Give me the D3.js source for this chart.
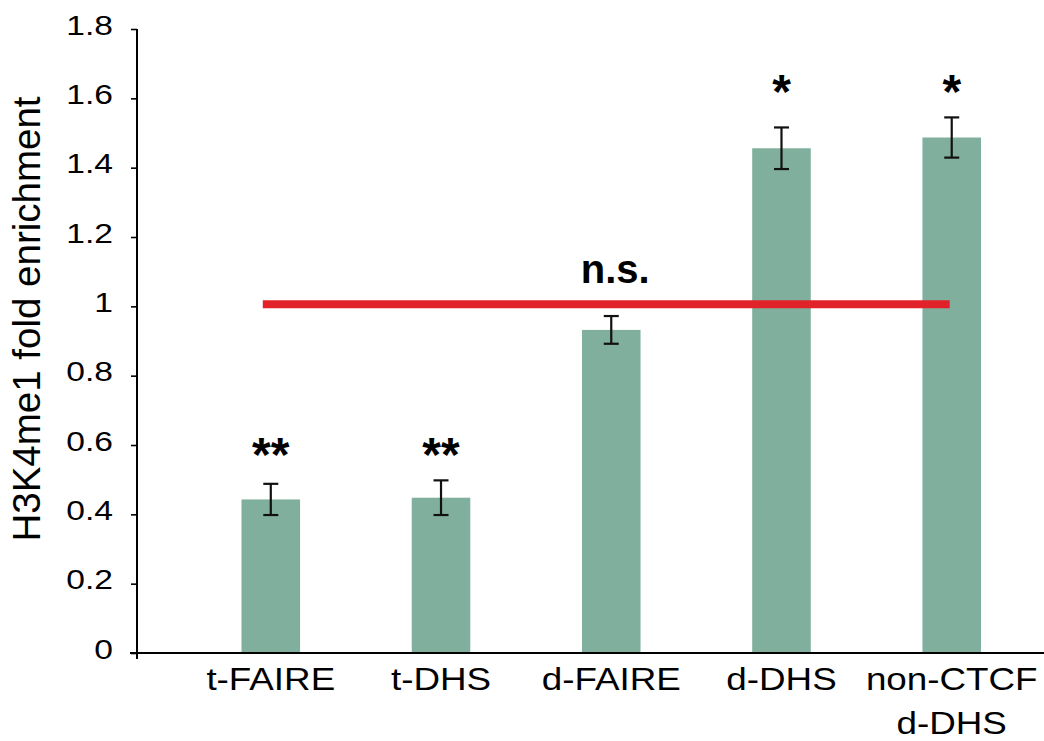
<!DOCTYPE html>
<html>
<head>
<meta charset="utf-8">
<script src="https://cdn.jsdelivr.net/npm/d3@7"></script>
<style>
  body { margin: 0; background: #fff; }
  text { font-family: "Liberation Sans", Arial, sans-serif; fill: #000; }
</style>
</head>
<body>
<script>
/* Data */
var categories = ["t-FAIRE", "t-DHS", "d-FAIRE", "d-DHS", "non-CTCF d-DHS"],
	values = [0.443, 0.448, 0.932, 1.456, 1.487],
	errors = [0.045, 0.05, 0.04, 0.06, 0.058],
	marks = ["**", "**", "", "*", "*"],
	yTicks = [0, 0.2, 0.4, 0.6, 0.8, 1, 1.2, 1.4, 1.6, 1.8],
	refValue = 1,
	refLabel = "n.s.",
	yTitle = "H3K4me1 fold enrichment";

/* Display setup */
var W = 1044, H = 741,
	plot = {left: 137, right: 1044, top: 29, bottom: 653},
	stretch = 1.2, // figure tick text is a bit wider than plain Arial
	svg = d3.select("body").append("svg")
		.attr("width", W)
		.attr("height", H);

svg.append("rect").attr("width", W).attr("height", H).style("fill", "white");

var x = d3.scaleBand()
		.domain(categories)
		.range([241.5, 981])
		.paddingInner(0.656)
		.paddingOuter(0),
	y = d3.scaleLinear()
		.domain([0, 1.8])
		.range([plot.bottom, plot.top]);

function cx(d) { return x(d) + x.bandwidth() / 2; }
function barTop(i) { return values[i] + errors[i]; }

/* Bars */
svg.append("g").selectAll("rect")
	.data(categories)
	.enter().append("rect")
		.attr("x", function(d) { return x(d); })
		.attr("y", function(d, i) { return y(values[i]); })
		.attr("width", x.bandwidth())
		.attr("height", function(d, i) { return y(0) - y(values[i]); })
		.style("fill", "#80b09d");

/* Error bars */
var err = svg.append("g")
	.style("stroke", "#111")
	.style("stroke-width", 2.2)
	.selectAll("g")
	.data(categories)
	.enter().append("g");

err.append("line")
	.attr("x1", cx).attr("x2", cx)
	.attr("y1", function(d, i) { return y(values[i] + errors[i]); })
	.attr("y2", function(d, i) { return y(values[i] - errors[i]); });
[1, -1].forEach(function(s) {
	err.append("line")
		.attr("x1", function(d) { return cx(d) - 7.5; })
		.attr("x2", function(d) { return cx(d) + 7.5; })
		.attr("y1", function(d, i) { return y(values[i] + s * errors[i]); })
		.attr("y2", function(d, i) { return y(values[i] + s * errors[i]); });
});

/* Significance stars: bars sharing a mark get them on one level */
function markLevel(m) {
	return d3.max(marks.map(function(k, j) { return k === m ? barTop(j) : 0; }));
}
svg.append("g").selectAll("text")
	.data(categories)
	.enter().append("text")
		.attr("transform", function(d, i) {
			return "translate(" + cx(d) + "," + (y(markLevel(marks[i])) - 9) + ")";
		})
		.attr("text-anchor", "middle")
		.style("font-size", "48px")
		.style("font-weight", "bold")
		.text(function(d, i) { return marks[i]; });

/* Reference line at 1 */
svg.append("line")
	.attr("x1", cx(categories[0]) - 8)
	.attr("x2", cx(categories[categories.length - 1]) - 2)
	.attr("y1", y(refValue) - 2)
	.attr("y2", y(refValue) - 2)
	.style("stroke", "#e2222a")
	.style("stroke-width", 8);

svg.append("text")
	.attr("transform", "translate(" + (cx(categories[2]) + 4) + "," + (y(refValue) - 23) + ")")
	.attr("text-anchor", "middle")
	.style("font-size", "40px")
	.style("font-weight", "bold")
	.text(refLabel);

/* Axes */
var yAxis = svg.append("g")
	.attr("transform", "translate(" + plot.left + ",0)")
	.call(d3.axisLeft(y)
		.tickValues(yTicks)
		.tickSize(6)
		.tickSizeOuter(0)
		.tickPadding(18)
		.tickFormat(function(d) { return String(+d.toFixed(1)); }));

yAxis.select(".domain").remove();
yAxis.selectAll(".tick line").style("stroke", "#000").style("stroke-width", 1.6);
yAxis.selectAll(".tick text")
	.attr("transform", function() {
		return "translate(" + d3.select(this).attr("x") + ",-5) scale(" + stretch + ",1)";
	})
	.attr("x", 0)
	.attr("dy", "0.36em")
	.style("font-size", "28px")
	.style("font-family", "'Liberation Sans', Arial, sans-serif")
	.style("fill", "#000");

svg.append("line") // y axis line, runs a little past the x axis
	.attr("x1", plot.left).attr("x2", plot.left)
	.attr("y1", plot.top).attr("y2", plot.bottom + 6)
	.style("stroke", "#000").style("stroke-width", 2);

svg.append("line") // x axis line
	.attr("x1", plot.left - 7).attr("x2", plot.right)
	.attr("y1", plot.bottom).attr("y2", plot.bottom)
	.style("stroke", "#000").style("stroke-width", 2);

/* Category labels */
var labels = svg.append("g").selectAll("text")
	.data(categories)
	.enter().append("text")
		.attr("transform", function(d) {
			return "translate(" + cx(d) + "," + (plot.bottom + 37) + ") scale(1.15,1)";
		})
		.attr("text-anchor", "middle")
		.style("font-size", "32px");

labels.each(function(d) {
	var words = d.indexOf("non-CTCF") === 0 ? ["non-CTCF", "d-DHS"] : [d];
	d3.select(this).selectAll("tspan")
		.data(words)
		.enter().append("tspan")
			.attr("x", 0)
			.attr("y", function(w, j) { return j * 44; })
			.text(function(w) { return w; });
});

/* Y title */
svg.append("text")
	.attr("transform", "translate(40," + ((plot.top + plot.bottom) / 2 - 22) + ") rotate(-90)")
	.attr("text-anchor", "middle")
	.style("font-size", "38.5px")
	.text(yTitle);
</script>
</body>
</html>
